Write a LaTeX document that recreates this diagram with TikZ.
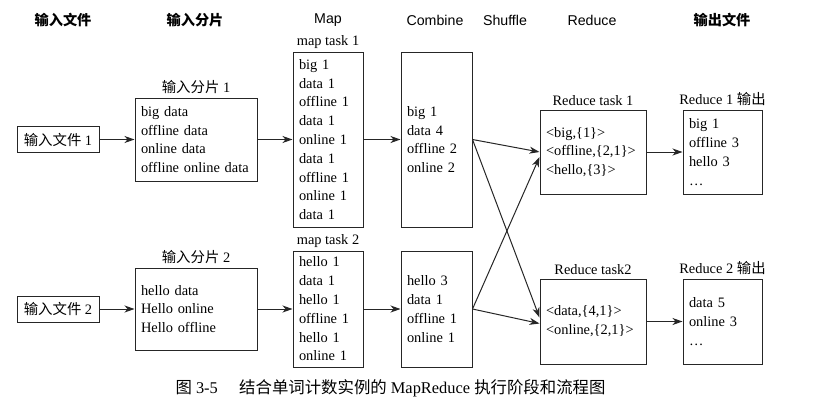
\documentclass[tikz,border=0pt]{standalone}
\usepackage{fontspec}
\setmainfont{Liberation Serif}
\setsansfont{Liberation Sans}
\newfontfamily\cjk{Noto Sans CJK SC}
\usetikzlibrary{arrows.meta}

\begin{document}
\begin{tikzpicture}[x=1pt,y=-1pt,
 box/.style={draw=black!85,line width=1pt,inner xsep=6pt,inner ysep=0pt,align=left,font=\fontsize{14.4}{18.8}\selectfont},
 head/.style={font=\sffamily\fontsize{14.2}{16}\selectfont},
 tag/.style={anchor=south,inner sep=1pt,font=\fontsize{14.4}{16}\selectfont},
 flow/.style={draw=black!85,line width=1pt,-{Stealth[length=10pt,width=7pt,inset=3pt]}}]
 \useasboundingbox (0,0) rectangle (829,410);
 % column heads
 \node[head] (hin) at (63,20) {\cjk\bfseries 输入文件};
 \node[head] (hsp) at (195,20) {\cjk\bfseries 输入分片};
 \node[head] (hmap) at (328,20) {Map};
 \node[head] (hcmb) at (435,20) {Combine};
 \node[head] (hshf) at (505,20) {Shuffle};
 \node[head] (hred) at (592,20) {Reduce};
 \node[head] (hout) at (722,20) {\cjk\bfseries 输出文件};
 % upper row
 \node[box,minimum width=82pt,minimum height=26pt,align=center] (in1) at (58,139.5) {{\cjk 输入文件}~1};
 \node[box,text width=110pt,minimum height=83pt] (sp1) at (196,139.5) {big data\\offline data\\online data\\offline online data};
 \node[box,text width=58pt,minimum height=175pt] (map1) at (328,139.5) {big 1\\data 1\\offline 1\\data 1\\online 1\\data 1\\offline 1\\online 1\\data 1};
 \node[box,text width=59pt,minimum height=175pt] (cmb1) at (436.5,139.5) {big 1\\data 4\\offline 2\\online 2};
 \node[box,text width=94pt,minimum height=84pt] (red1) at (593,152) {<big,\{1\}>\\<offline,\{2,1\}>\\<hello,\{3\}>};
 \node[box,text width=67pt,minimum height=84pt] (out1) at (722.5,152) {big 1\\offline 3\\hello 3\\\dots};
 % lower row
 \node[box,minimum width=82pt,minimum height=26pt,align=center] (in2) at (58,309) {{\cjk 输入文件}~2};
 \node[box,text width=110pt,minimum height=82pt] (sp2) at (196,309) {hello data\\Hello online\\Hello offline};
 \node[box,text width=58pt,minimum height=116pt] (map2) at (328,309) {hello 1\\data 1\\hello 1\\offline 1\\hello 1\\online 1};
 \node[box,text width=59pt,minimum height=116pt] (cmb2) at (436.5,309) {hello 3\\data 1\\offline 1\\online 1};
 \node[box,text width=94pt,minimum height=85pt] (red2) at (593,321.5) {<data,\{4,1\}>\\<online,\{2,1\}>};
 \node[box,text width=67pt,minimum height=85pt] (out2) at (722.5,321.5) {data 5\\online 3\\\dots};
 % labels over the boxes
 \node[tag] (sp1lab) at ([yshift=3pt]sp1.north) {{\cjk 输入分片}~1};
 \node[tag] (map1lab) at ([yshift=2pt]map1.north) {map task 1};
 \node[tag] (red1lab) at ([yshift=3pt]red1.north) {Reduce task 1};
 \node[tag] (out1lab) at ([yshift=3pt]out1.north) {Reduce 1 {\cjk 输出}};
 \node[tag] (sp2lab) at ([yshift=3pt]sp2.north) {{\cjk 输入分片}~2};
 \node[tag] (map2lab) at ([yshift=2pt]map2.north) {map task 2};
 \node[tag] (red2lab) at ([yshift=3pt]red2.north) {Reduce task2};
 \node[tag] (out2lab) at ([yshift=3pt]out2.north) {Reduce 2 {\cjk 输出}};
 % arrows
 \draw[flow] (in1) -- (sp1);
 \draw[flow] (sp1) -- (map1);
 \draw[flow] (map1) -- (cmb1);
 \draw[flow] (in2) -- (sp2);
 \draw[flow] (sp2) -- (map2);
 \draw[flow] (map2) -- (cmb2);
 \draw[flow] (cmb1.east) -- (red1.west);
 \draw[flow] (cmb1.east) -- ([yshift=4pt]red2.west);
 \draw[flow] (cmb2.east) -- ([yshift=-5pt]red1.west);
 \draw[flow] (cmb2.east) -- ([yshift=-2pt]red2.west);
 \draw[flow] (red1) -- (out1);
 \draw[flow] (red2) -- (out2);
 % caption
 \node[anchor=west,font=\fontsize{16.4}{18}\selectfont] (cap) at (172,388) {{\cjk 图}~3-5\hspace{1.3em}{\cjk 结合单词计数实例的}~MapReduce~{\cjk 执行阶段和流程图}};
\end{tikzpicture}
\end{document}
